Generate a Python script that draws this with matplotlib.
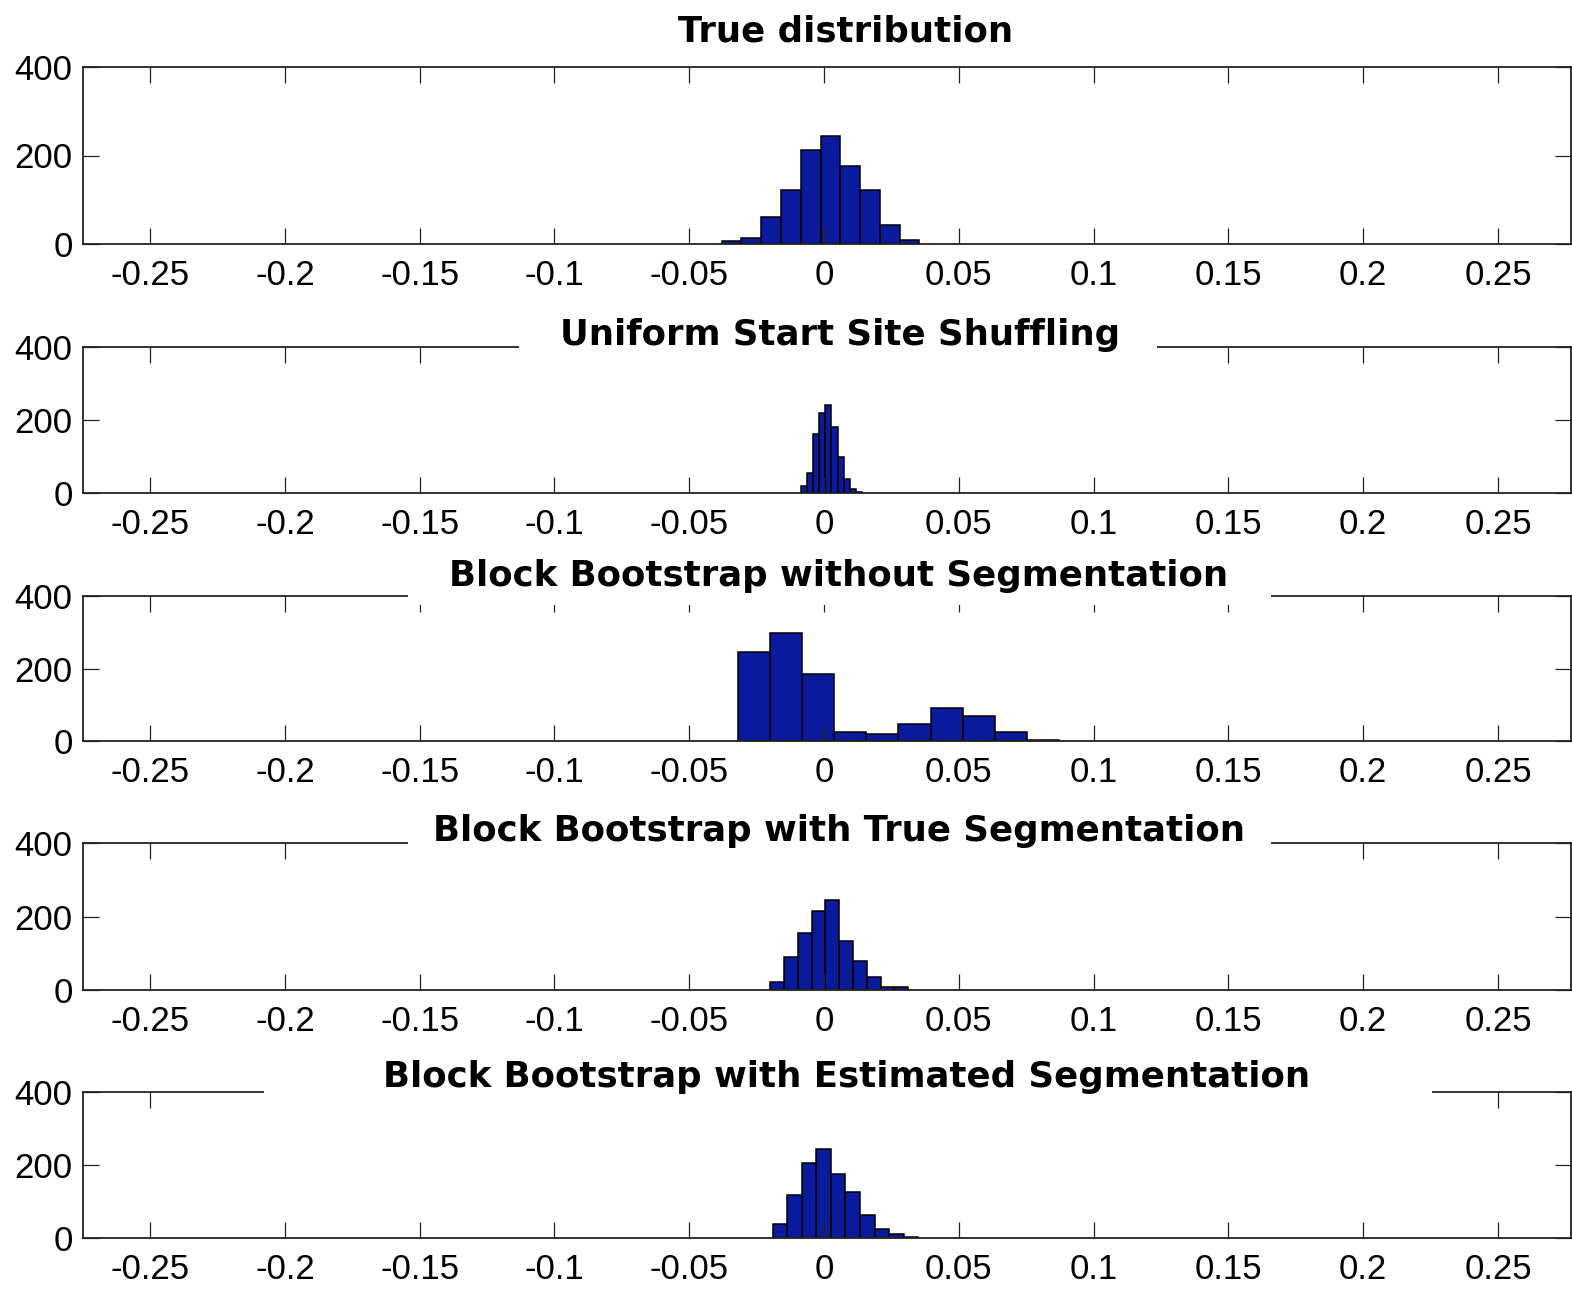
import numpy as np
import matplotlib
matplotlib.use("Agg")
import matplotlib.pyplot as plt
from matplotlib.patches import Rectangle

plt.rcParams['axes.unicode_minus'] = False

# histogram counts (10 bins each) and the value range the bins span
titles = ["True distribution",
          "Uniform Start Site Shuffling",
          "Block Bootstrap without Segmentation",
          "Block Bootstrap with True Segmentation",
          "Block Bootstrap with Estimated Segmentation"]
counts_true = [6, 13, 60, 121, 213, 245, 176, 121, 44, 9]
counts_uniform = [18, 56, 162, 219, 240, 181, 100, 39, 12, 4]
counts_noseg = [246, 299, 185, 26, 20, 48, 92, 70, 25, 4]
counts_trueseg = [23, 89, 154, 215, 245, 132, 80, 36, 9, 9]
counts_estseg = [37, 117, 205, 243, 174, 126, 64, 25, 10, 4]
range_true = (-0.0380, 0.0354)
range_uniform = (-0.0086, 0.0141)
range_noseg = (-0.0320, 0.0872)
range_trueseg = (-0.0200, 0.0312)
range_estseg = (-0.0190, 0.0349)

xticks = [-0.25, -0.2, -0.15, -0.1, -0.05, 0, 0.05, 0.1, 0.15, 0.2, 0.25]
xticklabels = ["-0.25", "-0.2", "-0.15", "-0.1", "-0.05", "0",
               "0.05", "0.1", "0.15", "0.2", "0.25"]
yticks = [0, 200, 400]

panels = [(counts_true, range_true), (counts_uniform, range_uniform),
          (counts_noseg, range_noseg), (counts_trueseg, range_trueseg),
          (counts_estseg, range_estseg)]

W, H = 1572, 1291
fig = plt.figure(figsize=(W / 100, H / 100), dpi=100)

# layout in pixels: (axes top, axes bottom, title x, title baseline, gap in top line)
layout = [(67, 244, 846, 41, None),
          (347, 493, 840, 345, (519, 1157, 367)),
          (596, 741, 839, 586, (408, 1271, 605)),
          (843, 990, 839, 841, (408, 1271, 863)),
          (1092, 1238, 847, 1087, (264, 1432, 1112))]

bar_color = '#0a1a9c'
tick_font = dict(family='Liberation Sans', size=25)

for (cnts, rng), title, (top, bot, tx, ty, gap) in zip(panels, titles, layout):
    ax = fig.add_axes([83 / W, 1 - bot / H, (1571 - 83) / W, (bot - top) / H])
    edges = np.linspace(rng[0], rng[1], len(cnts) + 1)
    ax.bar(edges[:-1], cnts, width=np.diff(edges), align='edge',
           color=bar_color, edgecolor='black', linewidth=1.1)
    ax.set_xlim(-0.2749, 0.2771)
    ax.set_ylim(0, 400)
    ax.set_xticks(xticks)
    ax.set_xticklabels(xticklabels, **tick_font)
    ax.set_yticks(yticks)
    ax.set_yticklabels([str(v) for v in yticks], **tick_font)
    ax.tick_params(axis='x', direction='in', length=11.5, width=0.9,
                   top=True, pad=10.5, colors='#222222', labelcolor='black')
    ax.tick_params(axis='y', direction='in', length=11.5, width=0.9,
                   right=True, pad=7.5, colors='#222222', labelcolor='black')
    for sp in ax.spines.values():
        sp.set_linewidth(1.3)
        sp.set_color('#222222')

    # white band behind the title breaks the top axis line
    if gap is not None:
        x0, x1, yb = gap
        fig.add_artist(Rectangle((x0 / W, 1 - yb / H), (x1 - x0) / W,
                                 (yb - top + 6) / H, transform=fig.transFigure,
                                 facecolor='white', edgecolor='none', zorder=2))
    fig.text(tx / W, 1 - ty / H, title, ha='center', va='baseline',
             family='DejaVu Sans', weight='bold', size=25.6, zorder=3)

fig.savefig("out.png", dpi=100, facecolor='white')
